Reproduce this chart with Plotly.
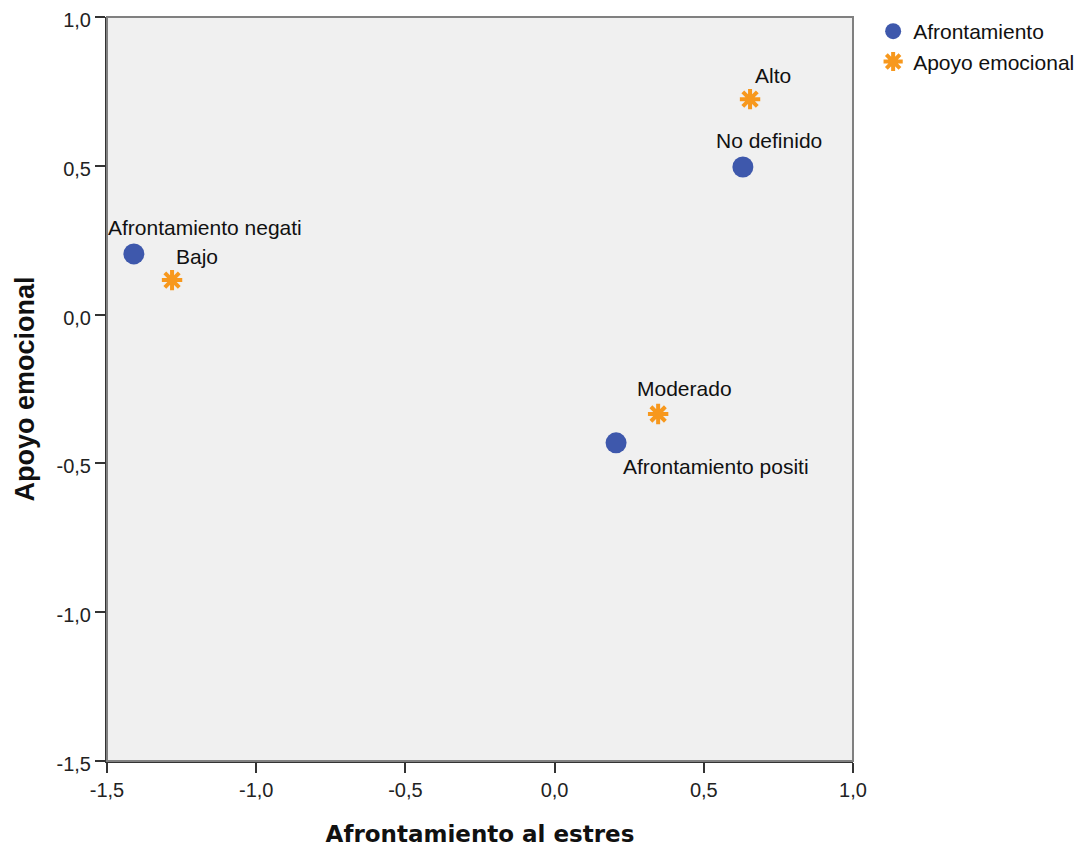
import plotly.graph_objects as go

afr_labels = ["Afrontamiento negati", "No definido", "Afrontamiento positi"]
afr_x = [-1.41, 0.631, 0.206]
afr_y = [0.204, 0.496, -0.431]

apo_labels = ["Alto", "Bajo", "Moderado"]
apo_x = [0.655, -1.282, 0.347]
apo_y = [0.724, 0.116, -0.334]

tick_vals = [-1.5, -1.0, -0.5, 0.0, 0.5, 1.0]
tick_text = ["-1,5", "-1,0", "-0,5", "0,0", "0,5", "1,0"]

# label offsets in pixels (xshift, yshift)
afr_shift = [(71, 26), (26, 26), (100, -24)]
apo_shift = [(23, 24), (25, 24), (26, 26)]

FONT = "Liberation Sans, Arial, sans-serif"

fig = go.Figure()
fig.add_trace(go.Scatter(
    x=afr_x, y=afr_y, mode="markers", name="Afrontamiento",
    marker=dict(symbol="circle", size=21, color="#3E58AC"),
))
fig.add_trace(go.Scatter(
    x=apo_x, y=apo_y, mode="markers", name="Apoyo emocional",
    marker=dict(symbol="asterisk-open", size=17, color="#F7981D",
                line=dict(color="#F7981D", width=4)),
))

for lab, x, y, (dx, dy) in zip(afr_labels + apo_labels, afr_x + apo_x, afr_y + apo_y,
                               afr_shift + apo_shift):
    fig.add_annotation(x=x, y=y, text=lab, showarrow=False, xshift=dx, yshift=dy,
                       font=dict(family=FONT, size=21, color="#111111"))

axis_common = dict(
    showgrid=False, zeroline=False, ticks="outside", ticklen=10, tickwidth=2,
    tickcolor="#333333", showline=True, linecolor="#333333", linewidth=2,
    mirror=False, tickfont=dict(family=FONT, size=20, color="#222222"),
    tickmode="array", tickvals=tick_vals, ticktext=tick_text, automargin=False,
    ticklabeloverflow="allow",
)
fig.update_xaxes(range=[-1.5, 1.0], title=dict(text="<b>Afrontamiento al estres</b>",
                 font=dict(family="DejaVu Sans", size=23, color="#111111"), standoff=26),
                 **axis_common)
fig.update_yaxes(range=[-1.5, 1.0], title=dict(text="<b>Apoyo emocional</b>",
                 font=dict(family=FONT, size=27, color="#111111"), standoff=14),
                 ticklabelshift=3, **axis_common)

fig.update_layout(
    width=1082, height=850,
    margin=dict(l=99, r=237, t=9, b=97, autoexpand=False),
    plot_bgcolor="#F0F0F0", paper_bgcolor="#FFFFFF",
    showlegend=True,
    legend=dict(x=1.027, y=1.008, xanchor="left", yanchor="top",
                font=dict(family=FONT, size=21, color="#111111"),
                bgcolor="rgba(0,0,0,0)", itemsizing="trace", tracegroupgap=0),
    shapes=[dict(type="rect", xref="paper", yref="paper", x0=0, y0=0, x1=1, y1=1,
                 line=dict(color="#808080", width=2), layer="above")],
)

fig.write_html("out.html")
